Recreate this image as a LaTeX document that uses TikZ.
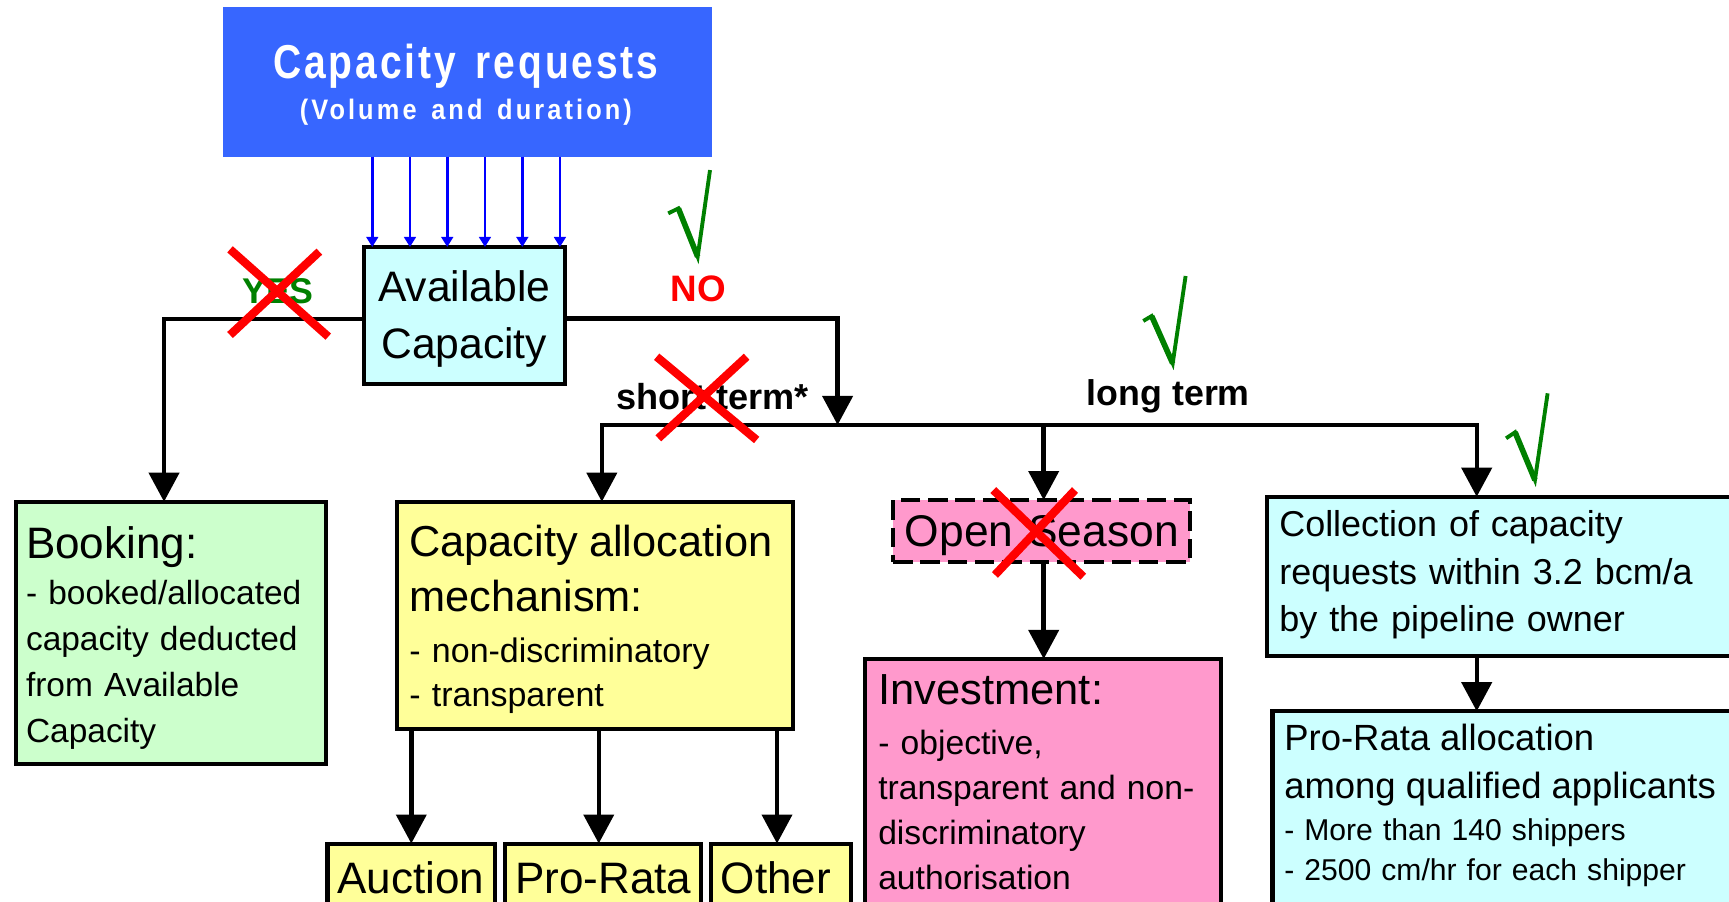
\documentclass[tikz,border=0pt]{standalone}
\usepackage{fontspec}
\setmainfont{Liberation Sans}
\newfontfamily\reqbig{Liberation Sans}[FakeStretch=0.82,LetterSpace=6]
\newfontfamily\reqsmall{Liberation Sans}[FakeStretch=0.9,LetterSpace=11]
\usetikzlibrary{arrows.meta}
\newlength\uu \setlength\uu{0.022cm}
\newcommand\myfs[2]{\fontsize{#1}{#2}\selectfont}
\definecolor{reqblue}{RGB}{55,102,255}
\definecolor{lcyan}{RGB}{204,255,255}
\definecolor{lgreen}{RGB}{204,255,204}
\definecolor{lyellow}{RGB}{255,255,153}
\definecolor{lpink}{RGB}{255,153,204}
\definecolor{okgreen}{RGB}{0,128,0}
\definecolor{xred}{RGB}{255,0,0}
\begin{document}
\begin{tikzpicture}[x=0.022cm, y=-0.022cm,
  box/.style={draw=black, line width=2.3pt, inner sep=0pt, outer sep=0pt, anchor=north west},
  txt/.style={inner sep=0pt, outer sep=0pt, align=left, text width=14cm, anchor=base west},
  ctxt/.style={inner sep=0pt, outer sep=0pt, anchor=base},
  lbl/.style={inner sep=0pt, outer sep=0pt, font=\bfseries\myfs{20.5}{24}, anchor=base},
  arr/.style={draw=black, line width=2.5pt, -{Triangle[width=17pt,length=16.5pt]}},
  blarr/.style={draw=blue, line width=1.5pt, -{Triangle[width=6.6pt,length=5.7pt]}},
  redx/.style={draw=xred, line width=4.7pt},
  chk/.style={draw=okgreen, line width=2.2pt, line join=miter}
]
\useasboundingbox (0,0) rectangle (1568,818);
\clip (0,0) rectangle (1568,818);

% boxes
\node[box, fill=reqblue, draw=none, minimum width=444\uu, minimum height=136\uu] (req) at (202,6) {};
\node[box, fill=lcyan, minimum width=182\uu, minimum height=124\uu] (avail) at (330,224) {};
\node[box, fill=lgreen, minimum width=281.5\uu, minimum height=238\uu] (book) at (14.5,455) {};
\node[box, fill=lyellow, minimum width=359\uu, minimum height=206\uu] (ca) at (360,455) {};
\node[box, fill=lyellow, minimum width=152\uu, minimum height=80\uu] (auc) at (297,765) {};
\node[box, fill=lyellow, minimum width=178\uu, minimum height=80\uu] (pro) at (458,765) {};
\node[box, fill=lyellow, minimum width=127.5\uu, minimum height=80\uu] (oth) at (644.5,765) {};
\node[box, fill=lpink, dash pattern=on 11pt off 4.5pt, minimum width=269\uu, minimum height=56\uu] (os) at (810,453.5) {};
\node[box, fill=lpink, minimum width=322.5\uu, minimum height=240\uu] (inv) at (784.5,597.6) {};
\node[box, fill=lcyan, minimum width=451\uu, minimum height=144.5\uu] (coll) at (1149,450.5) {};
\node[box, fill=lcyan, minimum width=446\uu, minimum height=195\uu] (pr) at (1154,645) {};

% texts
\node[ctxt, text=white, align=center, text width=440\uu, font=\bfseries\myfs{16}{23.3}] (reqT) at (422.5,71.6)
  {{\reqbig\bfseries\myfs{27}{23.3}Capacity\hspace{6pt} requests}\\{\reqsmall\bfseries (Volume\hspace{3pt} and\hspace{3pt} duration)}};
\node[ctxt, align=center, text width=180\uu, font=\myfs{24.2}{32.2}] (availT) at (421,273.6) {Available\\Capacity};
\node[txt, font=\myfs{19}{26}] (bookT) at (23.6,506.3)
  {{\myfs{25}{26}Booking:}\\[0.5pt]- booked/allocated\\capacity deducted\\from Available\\Capacity};
\node[txt, font=\myfs{19.3}{25}] (caT) at (371.2,504.8)
  {{\myfs{24.6}{25}Capacity allocation}\\[6.2pt]{\myfs{24.6}{25}mechanism:}\\[4pt]- non-discriminatory\\- transparent};
\node[ctxt, font=\myfs{25}{30}] (aucT) at (372.6,810.1) {Auction};
\node[ctxt, font=\myfs{25}{30}] (proT) at (547,810.1) {Pro-Rata};
\node[ctxt, font=\myfs{25}{30}] (othT) at (703.6,810.1) {Other};
\node[txt, font=\myfs{25.2}{30}] (osT) at (820.7,495.8) {Open Season};
\node[txt, font=\myfs{19.1}{25.4}] (invT) at (796.5,639.3)
  {{\myfs{24.7}{25.4}Investment:}\\[3pt]- objective,\\transparent and non-\\discriminatory\\authorisation};
\node[txt, font=\myfs{20.4}{26.9}] (collT) at (1160.2,486.7)
  {Collection of capacity\\requests within 3.2 bcm/a\\by the pipeline owner};
\node[txt, font=\myfs{17.1}{22.7}] (prT) at (1164.7,681)
  {{\myfs{20.7}{22.7}Pro-Rata allocation}\\[4.2pt]{\myfs{20.7}{22.7}among qualified applicants}\\[1pt]- More than 140 shippers\\- 2500 cm/hr for each shipper};

% labels
\node[lbl, text=okgreen, font=\bfseries\myfs{20.3}{24}] (yes) at (252.1,275) {YES};
\node[lbl, text=xred, font=\bfseries\myfs{20.9}{24}] (no) at (633.3,273.6) {NO};
\node[lbl] (st) at (646.2,371.8) {short term*};
\node[lbl, font=\bfseries\myfs{20.3}{24}] (lt) at (1059.5,367.9) {long term};

% blue arrows
\foreach \bx [count=\i] in {337.6,371.8,405.6,439.8,473.7,507.8} {
  \coordinate (bl\i) at (\bx,0);
  \draw[blarr] (bl\i |- req.south) -- (bl\i |- avail.north);
}

% connectors
\draw[arr] ([yshift=-3.3\uu]avail.west) -| ([xshift=-6.5\uu]book.north);
\coordinate (split) at (759.6,385.4);
\draw[arr] ([yshift=-3\uu]avail.east) -| (split);
\draw[arr] (split) -| ([xshift=6.3\uu]ca.north);
\coordinate (cx) at ([xshift=-35.3\uu]coll.north);
\draw[arr] (split) -| (cx);
\coordinate (osx) at ([xshift=2\uu]os.north);
\draw[arr] (osx |- split) -- (osx);
\draw[arr] (os.south -| osx) -- (inv.north -| osx);
\draw[arr] (ca.south -| auc.north) -- (auc.north);
\coordinate (prx) at ([xshift=-4\uu]pro.north);
\draw[arr] (ca.south -| prx) -- (prx);
\coordinate (otx) at ([xshift=-3.6\uu]oth.north);
\draw[arr] (ca.south -| otx) -- (otx);
\draw[arr] (coll.south -| cx) -- (pr.north -| cx);

% red crosses
\draw[redx] (208.6,226.1) -- (297.7,305.3);
\draw[redx] (289.6,228.2) -- (208.6,303.8);
\draw[redx] (595.5,323.5) -- (686.2,399);
\draw[redx] (677.1,323.5) -- (597,397.5);
\draw[redx] (900.8,444.4) -- (982.4,523);
\draw[redx] (974.9,444.4) -- (902.3,521.4);

% green check marks
\draw[chk] (606,193.5) -- (615.2,189) -- (632.7,232.8) -- (643.9,154.2);
\draw[chk, line width=3.2pt] (615.2,189) -- (632.7,232.8);
\draw[chk] (1036.8,291.1) -- (1044.4,286.6) -- (1063.5,329.5) -- (1075.2,250.3);
\draw[chk, line width=3.2pt] (1044.4,286.6) -- (1063.5,329.5);
\draw[chk] (1365.8,397.5) -- (1374,392) -- (1392,435.3) -- (1403.5,356.7);
\draw[chk, line width=3.2pt] (1374,392) -- (1392,435.3);
\end{tikzpicture}
\end{document}
